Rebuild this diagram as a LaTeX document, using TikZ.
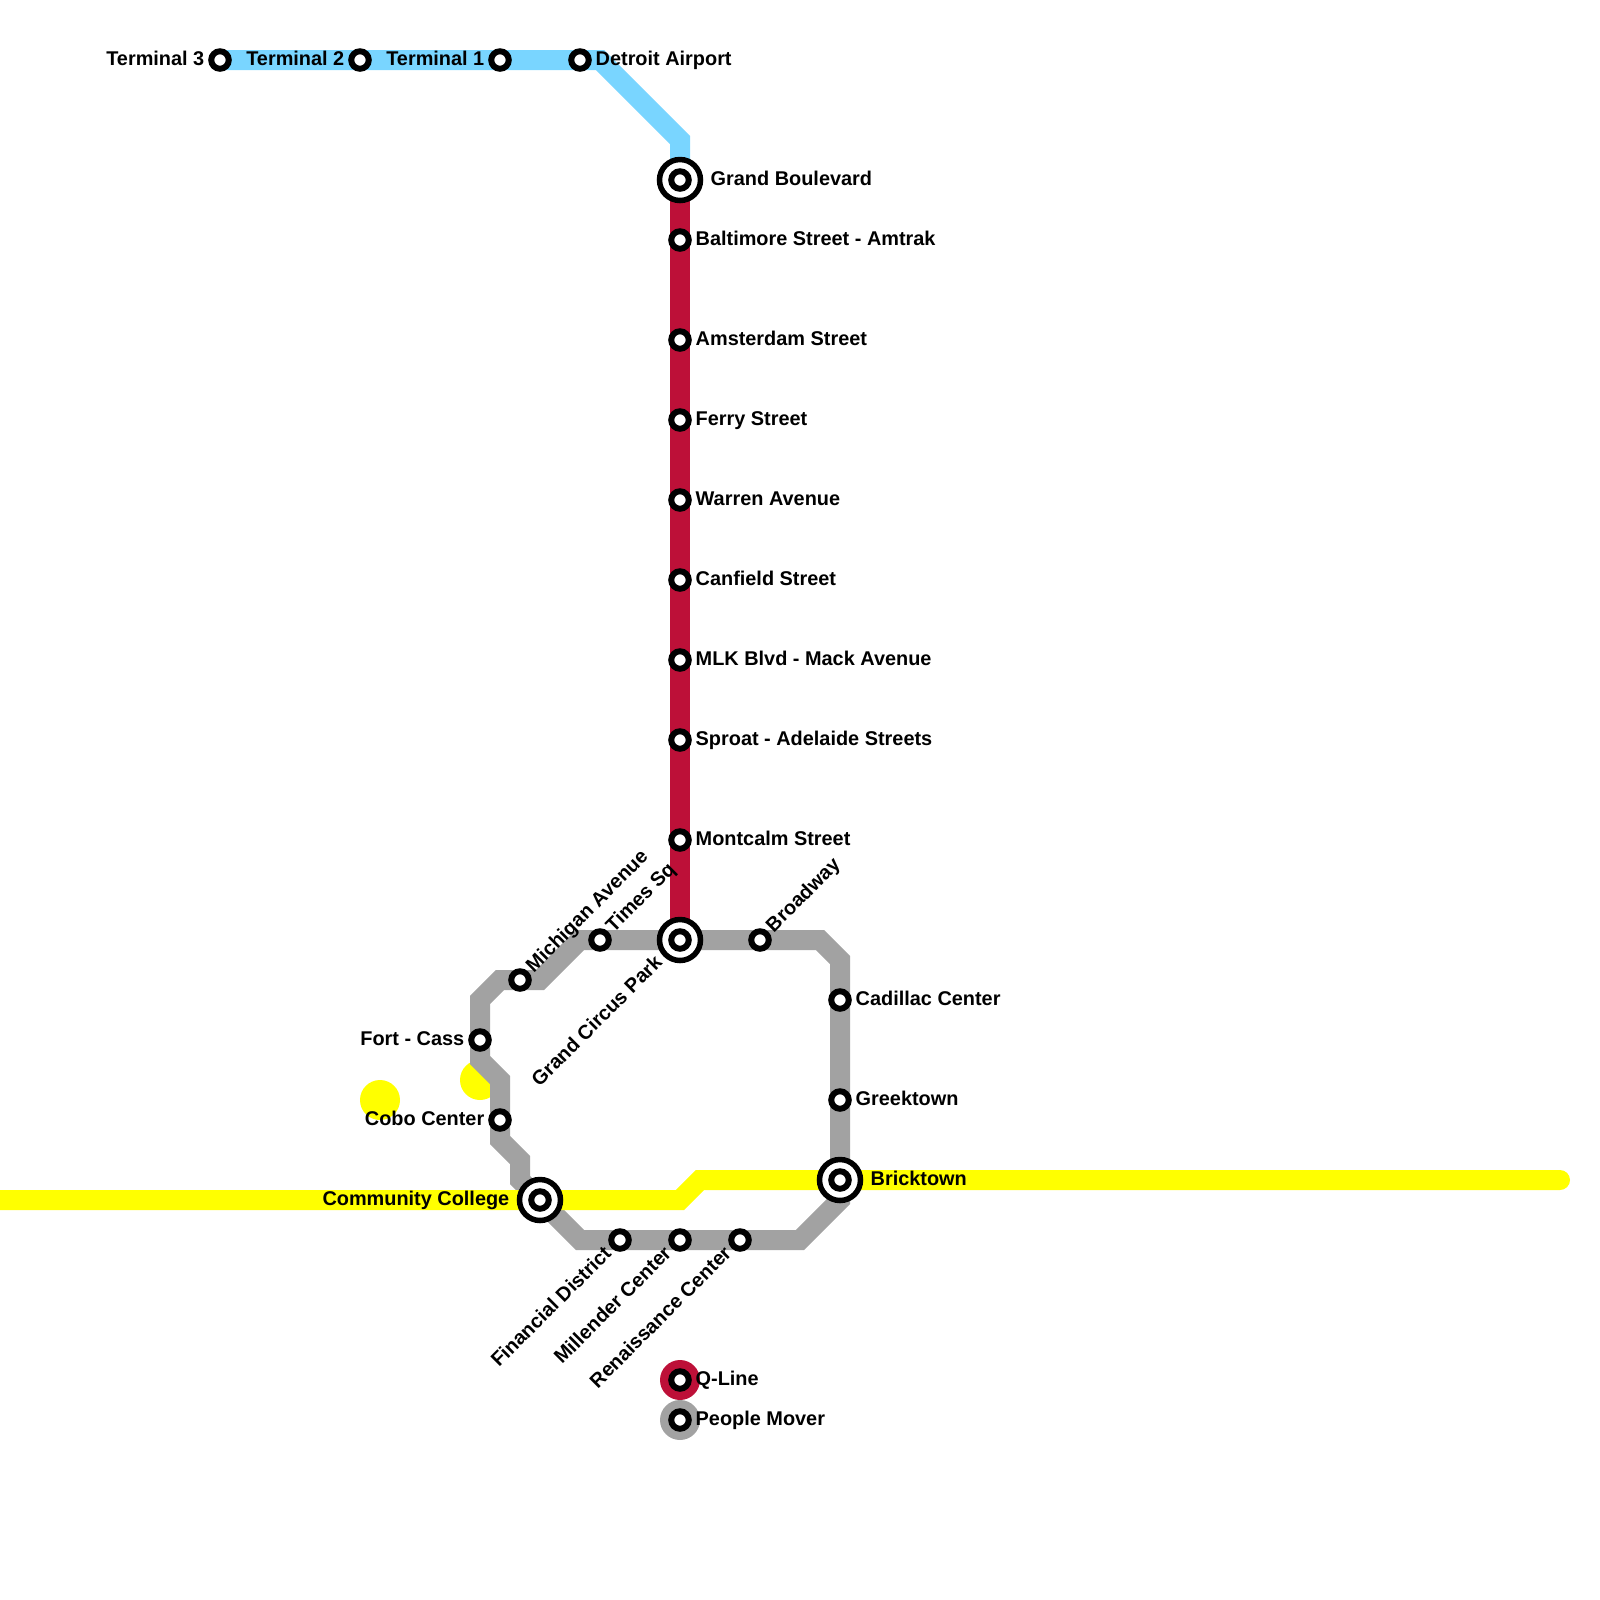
\documentclass[tikz,border=0pt]{standalone}
\usepackage{fontspec}
\setmainfont{Liberation Sans}
\usetikzlibrary{backgrounds}
\definecolor{qred}{HTML}{BD1038}
\definecolor{moverGray}{HTML}{A2A2A2}
\definecolor{airBlue}{HTML}{79D5FF}
\definecolor{transitYellow}{HTML}{FFFF00}
\begin{document}
\begin{tikzpicture}[
    x=0.2cm, y=-0.2cm,
    station/.style={circle, draw=black, line width=0.06cm, fill=white, inner sep=0pt, minimum size=0.175cm},
    hub/.style={circle, draw=black, line width=0.055cm, fill=white, inner sep=0pt, minimum size=0.41cm},
    disc/.style={circle, inner sep=0pt, minimum size=0.40cm},
    route/.style={line width=0.2cm, line join=miter},
    stopname/.style={font=\fontsize{5.66}{7}\selectfont\bfseries, inner sep=0pt, text height=0.72em, text depth=0.21em},
    toright/.style={stopname, anchor=west, xshift=0.15cm, yshift=0.03cm},
    toleft/.style={stopname, anchor=east, xshift=-0.15cm, yshift=0.03cm},
    upright/.style={stopname, rotate=45, anchor=west, xshift=0.14cm, yshift=0.04cm},
    downleft/.style={stopname, rotate=45, anchor=east, xshift=-0.15cm, yshift=0.04cm}
]
\useasboundingbox (0,0) rectangle (80,80);

% Legend discs
\node[disc, fill=qred] (qdisc) at (34,69) {};
\node[disc, fill=moverGray] (moverdisc) at (34,71) {};

% Airport branch
\node[station] (terminal3) at (11,3) {};
\node[station] (terminal2) at (18,3) {};
\node[station] (terminal1) at (25,3) {};
\node[station] (airport) at (29,3) {};

% Q-Line
\node[hub] (grandblvd) at (34,9) {};
\node[station] (grandblvdin) at (34,9) {};
\node[station] (baltimore) at (34,12) {};
\node[station] (amsterdam) at (34,17) {};
\node[station] (ferry) at (34,21) {};
\node[station] (warren) at (34,25) {};
\node[station] (canfield) at (34,29) {};
\node[station] (mlk) at (34,33) {};
\node[station] (sproat) at (34,37) {};
\node[station] (montcalm) at (34,42) {};
\node[hub] (circuspark) at (34,47) {};
\node[station] (circusparkin) at (34,47) {};

% People Mover
\node[station] (broadway) at (38,47) {};
\node[station] (cadillac) at (42,50) {};
\node[station] (greektown) at (42,55) {};
\node[hub] (bricktown) at (42,59) {};
\node[station] (bricktownin) at (42,59) {};
\node[station] (renaissance) at (37,62) {};
\node[station] (millender) at (34,62) {};
\node[station] (financial) at (31,62) {};
\node[hub] (college) at (27,60) {};
\node[station] (collegein) at (27,60) {};
\node[station] (cobo) at (25,56) {};
\node[station] (fortcass) at (24,52) {};
\node[station] (michigan) at (26,49) {};
\node[station] (timessq) at (30,47) {};

% Legend
\node[station] (qkey) at (34,69) {};
\node[station] (moverkey) at (34,71) {};

% Bends
\coordinate (airbend1) at (30,3);
\coordinate (airbend2) at (34,7);
\coordinate (movbend1) at (41,47);
\coordinate (movbend2) at (42,48);
\coordinate (movbend3) at (42,60);
\coordinate (movbend4) at (40,62);
\coordinate (movbend5) at (29,62);
\coordinate (movbend6) at (26,59);
\coordinate (movbend7) at (26,58);
\coordinate (movbend8) at (25,57);
\coordinate (movbend9) at (25,54);
\coordinate (movbend10) at (24,53);
\coordinate (movbend11) at (24,50);
\coordinate (movbend12) at (25,49);
\coordinate (movbend13) at (27,49);
\coordinate (movbend14) at (29,47);
\coordinate (yellowwest) at (0,60);
\coordinate (yellowbend1) at (34,60);
\coordinate (yellowbend2) at (35,59);
\coordinate (yelloweast) at (78,59);

% Lines
\begin{scope}[on background layer]
\node[disc, fill=transitYellow] (yellowspot1) at (19,55) {};
\node[disc, fill=transitYellow] (yellowspot2) at (24,54) {};
\draw[route, draw=moverGray] (circuspark.center) -- (broadway.center) -- (movbend1) -- (movbend2) -- (cadillac.center) -- (greektown.center) -- (bricktown.center) -- (movbend3) -- (movbend4) -- (renaissance.center) -- (millender.center) -- (financial.center) -- (movbend5) -- (college.center) -- (movbend6) -- (movbend7) -- (movbend8) -- (cobo.center) -- (movbend9) -- (movbend10) -- (fortcass.center) -- (movbend11) -- (movbend12) -- (michigan.center) -- (movbend13) -- (movbend14) -- (timessq.center) -- cycle;
\draw[route, draw=transitYellow, line cap=round] (yellowwest) -- (college.center) -- (yellowbend1) -- (yellowbend2) -- (bricktown.center) -- (yelloweast);
\draw[route, draw=airBlue] (terminal3.center) -- (terminal2.center) -- (terminal1.center) -- (airport.center) -- (airbend1) -- (airbend2) -- (grandblvd.center);
\draw[route, draw=qred] (grandblvd.center) -- (baltimore.center) -- (amsterdam.center) -- (ferry.center) -- (warren.center) -- (canfield.center) -- (mlk.center) -- (sproat.center) -- (montcalm.center) -- (circuspark.center);
\end{scope}

% Names
\node[toleft] (terminal3name) at (terminal3) {Terminal 3};
\node[toleft] (terminal2name) at (terminal2) {Terminal 2};
\node[toleft] (terminal1name) at (terminal1) {Terminal 1};
\node[toright] (airportname) at (airport) {Detroit Airport};
\node[toright, xshift=0.15cm] (grandblvdname) at (grandblvd) {Grand Boulevard};
\node[toright] (baltimorename) at (baltimore) {Baltimore Street - Amtrak};
\node[toright] (amsterdamname) at (amsterdam) {Amsterdam Street};
\node[toright] (ferryname) at (ferry) {Ferry Street};
\node[toright] (warrenname) at (warren) {Warren Avenue};
\node[toright] (canfieldname) at (canfield) {Canfield Street};
\node[toright] (mlkname) at (mlk) {MLK Blvd - Mack Avenue};
\node[toright] (sproatname) at (sproat) {Sproat - Adelaide Streets};
\node[toright] (montcalmname) at (montcalm) {Montcalm Street};
\node[downleft, xshift=-0.13cm] (circusparkname) at (circuspark) {Grand Circus Park};
\node[upright] (broadwayname) at (broadway) {Broadway};
\node[toright] (cadillacname) at (cadillac) {Cadillac Center};
\node[toright] (greektownname) at (greektown) {Greektown};
\node[toright, xshift=0.15cm] (bricktownname) at (bricktown) {Bricktown};
\node[downleft] (renaissancename) at (renaissance) {Renaissance Center};
\node[downleft] (millendername) at (millender) {Millender Center};
\node[downleft] (financialname) at (financial) {Financial District};
\node[toleft, xshift=-0.15cm] (collegename) at (college) {Community College};
\node[toleft] (coboname) at (cobo) {Cobo Center};
\node[toleft] (fortcassname) at (fortcass) {Fort - Cass};
\node[upright] (michiganname) at (michigan) {Michigan Avenue};
\node[upright] (timessqname) at (timessq) {Times Sq};
\node[toright] (qkeyname) at (qkey) {Q-Line};
\node[toright] (moverkeyname) at (moverkey) {People Mover};

\end{tikzpicture}
\end{document}
